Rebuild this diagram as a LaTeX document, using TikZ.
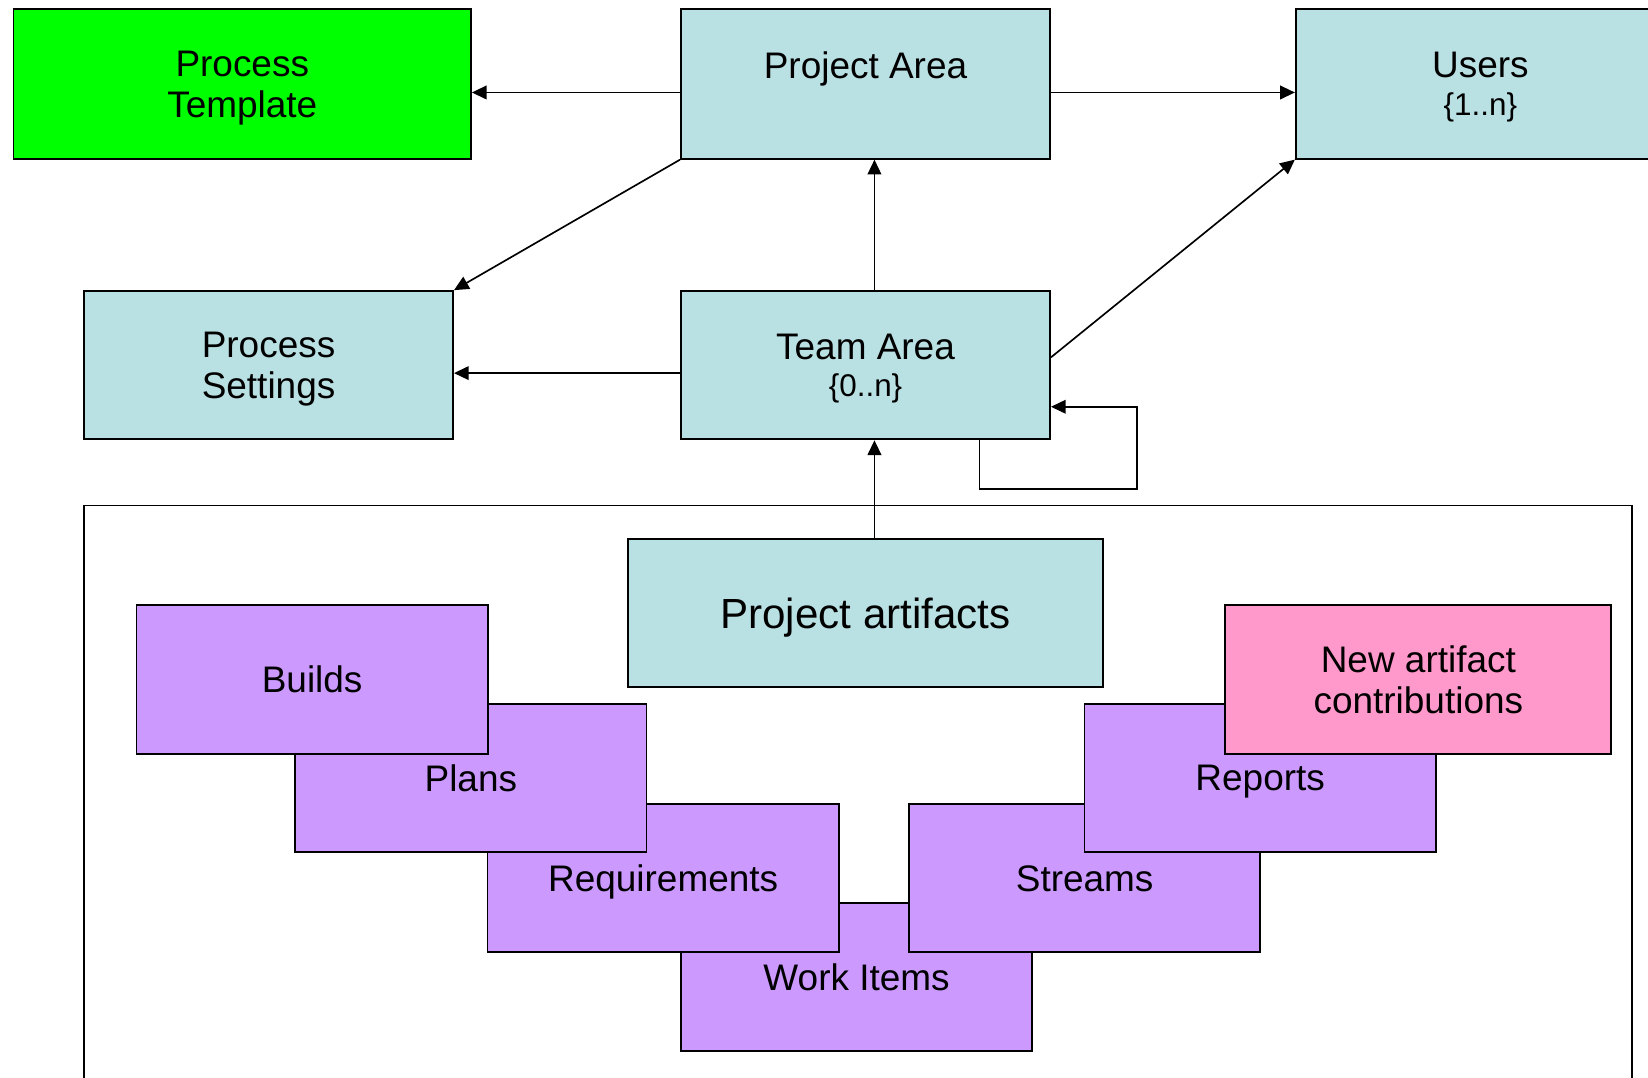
\documentclass[tikz,border=0pt]{standalone}
\usepackage{fontspec}
\setmainfont{Liberation Sans}
\usetikzlibrary{arrows.meta}
\definecolor{boxblue}{RGB}{185,224,227}
\definecolor{boxgreen}{RGB}{0,255,0}
\definecolor{boxpurple}{RGB}{204,153,255}
\definecolor{boxpink}{RGB}{255,153,204}
\tikzset{
  box/.style={draw=black, line width=0.5pt, inner sep=0pt, align=center,
    minimum width=3.51cm, minimum height=1.42cm, text depth=0pt,
    font=\fontsize{10}{11.2}\selectfont},
  bluebox/.style={box, fill=boxblue},
  art/.style={box, fill=boxpurple, minimum width=3.34cm, minimum height=1.41cm},
  arr/.style={line width=0.45pt, -{Triangle[length=0.14cm, width=0.13cm]}}
}
\newcommand{\subline}[1]{{\fontsize{8.5}{10}\selectfont #1}}
\begin{document}
\begin{tikzpicture}[x=0.01cm, y=-0.01cm]
\useasboundingbox (0,0) rectangle (1568,1025);

% top row
\node[box, fill=boxgreen, minimum width=4.35cm] (pt) at (230.5,80) {Process\\Template};
\node[bluebox] (pa) at (823.5,80) {Project Area\\[-1pt]\subline{\strut}};
\node[bluebox] (us) at (1408.5,80) {Users\\[-1pt]\subline{\{1..n\}}};

% middle row
\node[bluebox, minimum height=1.41cm] (ps) at (255.5,347.5) {Process\\Settings};
\node[bluebox, minimum height=1.41cm] (ta) at (823.5,347.5) {Team Area\\[-1pt]\subline{\{0..n\}}};

% outer frame
\coordinate (fa) at (80,481);
\coordinate (fb) at (1553,1045);
\draw[line width=0.5pt] (fa) rectangle (fb);

% project artifacts
\node[bluebox, minimum width=4.51cm, minimum height=1.41cm,
      font=\fontsize{11.4}{13}\selectfont] (pr) at (823.5,583.5) {Project artifacts};

% artifact stack (bottom first)
\node[art] (wi) at (815,929.5) {Work Items};
\node[art] (req) at (631,835.5) {Requirements};
\node[art] (pl) at (448,740.5) {Plans};
\node[art] (bu) at (297,646.5) {Builds};
\node[art] (st) at (1032,835.5) {Streams};
\node[art] (re) at (1199,740.5) {Reports};
\node[box, fill=boxpink, minimum width=3.67cm, minimum height=1.41cm] (na) at (1349.5,646.5) {New artifact\\contributions};

% connectors
\draw[arr] ([yshift=-0.08cm]pa.west) -- ([yshift=-0.08cm]pt.east);
\draw[arr] ([yshift=-0.08cm]pa.east) -- ([yshift=-0.08cm]us.west);
\draw[arr] (pa.south west) -- (ps.north east);
\draw[arr] ([xshift=0.085cm]ta.north) -- ([xshift=0.085cm]pa.south);
\draw[arr] ([yshift=0.075cm]ta.east) -- (us.south west);
\draw[arr] ([yshift=-0.075cm]ta.west) -- ([yshift=-0.075cm]ps.east);
\draw[arr] ([xshift=0.085cm]pr.north) -- ([xshift=0.085cm]ta.south);
\coordinate (lp) at (1082,465);
\draw[arr] ([xshift=1.085cm]ta.south) |- (lp) |- ([yshift=-0.395cm]ta.east);
\end{tikzpicture}
\end{document}
